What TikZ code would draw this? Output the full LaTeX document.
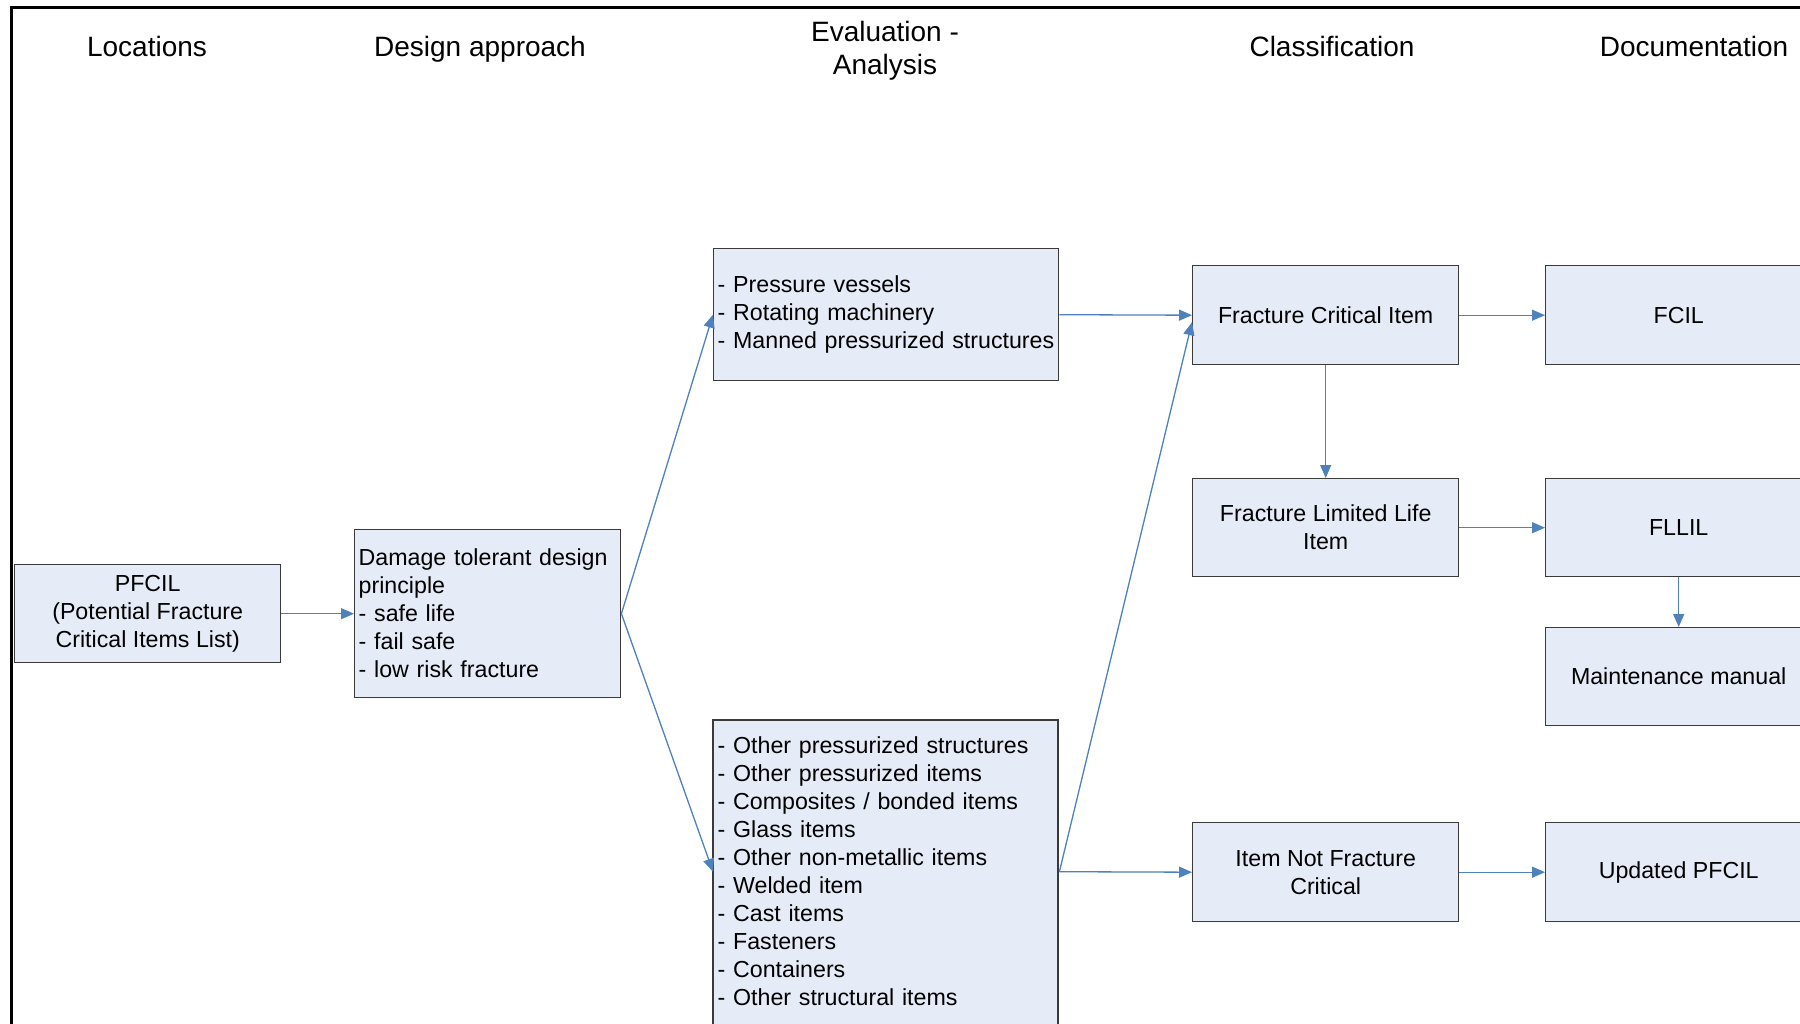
\documentclass[tikz,border=0pt]{standalone}
\usepackage{fontspec}
\setmainfont{Liberation Sans}
\usetikzlibrary{arrows.meta,calc}
\definecolor{boxfill}{HTML}{E6ECF7}
\definecolor{boxdraw}{HTML}{3A3A3A}
\definecolor{arrowc}{HTML}{4F81BD}
\begin{document}
\begin{tikzpicture}[x=1pt,y=-1pt,
  boxshape/.style={draw=boxdraw, fill=boxfill, line width=1.4pt},
  box/.style={boxshape, inner sep=0pt, anchor=north west,
    font=\fontsize{23.2}{28}\selectfont, align=center},
  lbox/.style={box, align=left, inner xsep=4pt},
  head/.style={font=\fontsize{28}{33}\selectfont, align=center, inner sep=0pt},
  conn/.style={draw=arrowc, line width=1.3pt, -{Triangle[length=13pt,width=11pt]}},
  frame/.style={draw=black, line width=3pt}]
\useasboundingbox (0,0) rectangle (1800,1024);
\clip (0,0) rectangle (1800,1024);
\fill[white] (0,0) rectangle (1800,1024);
\draw[frame] (11.5,1100) -- (11.5,7.5) -- (1900,7.5);

% headers
\node[head, anchor=base] (h1) at (147,57) {Locations};
\node[head, anchor=base] (h2) at (480,57) {Design approach};
\node[head] (h3) at (885,51) {Evaluation -\\Analysis};
\node[head, anchor=base] (h4) at (1332,57) {Classification};
\node[head, anchor=base] (h5) at (1694,57) {Documentation};

% boxes
\node[box, minimum width=266pt, minimum height=98pt] (pfcil) at (14,564)
  {PFCIL\\(Potential Fracture\\Critical Items List)};
\node[lbox, text width=258pt, minimum height=168pt] (dmg) at (354,529)
  {Damage tolerant design principle\\- safe life\\- fail safe\\- low risk fracture};
\node[lbox, text width=337pt, minimum height=132pt] (pres) at (713,248)
  {\hyphenpenalty=10000 - Pressure vessels\\- Rotating machinery\\- Manned pressurized structures};
% the lower list box runs past the bottom edge of the picture
\path[boxshape] (713,720) rectangle (1058,1060);
\node[lbox, draw=none, fill=none, text width=337pt, minimum height=302pt] (oth) at (713,720)
  {- Other pressurized structures\\- Other pressurized items\\- Composites / bonded items\\- Glass items\\- Other non-metallic items\\- Welded item\\- Cast items\\- Fasteners\\- Containers\\- Other structural items};
\node[box, minimum width=266pt, minimum height=99pt] (fci) at (1192,265) {Fracture Critical Item};
\node[box, minimum width=266pt, minimum height=98pt] (flli) at (1192,478) {Fracture Limited Life\\Item};
\node[box, minimum width=266pt, minimum height=99pt] (infc) at (1192,822) {Item Not Fracture\\Critical};
\node[box, minimum width=266pt, minimum height=99pt] (fcil) at (1545,265) {FCIL};
\node[box, minimum width=266pt, minimum height=98pt] (fllil) at (1545,478) {FLLIL};
\node[box, minimum width=266pt, minimum height=98pt] (maint) at (1545,627) {Maintenance manual};
\node[box, minimum width=266pt, minimum height=99pt] (upd) at (1545,822) {Updated PFCIL};

% connectors
\draw[conn] (pfcil.east) -- (dmg.west);
\draw[conn] (dmg.east) -- (pres.west);
\draw[conn] (dmg.east) -- (oth.west);
\draw[conn] (pres.east) -- (fci.west);
\draw[conn] (oth.east) -- ($(fci.west)+(0,7)$);
\draw[conn] (oth.east) -- (infc.west);
\draw[conn] (fci.south) -- (flli.north);
\draw[conn] (fci.east) -- (fcil.west);
\draw[conn] (flli.east) -- (fllil.west);
\draw[conn] (fllil.south) -- (maint.north);
\draw[conn] (infc.east) -- (upd.west);
\end{tikzpicture}
\end{document}
